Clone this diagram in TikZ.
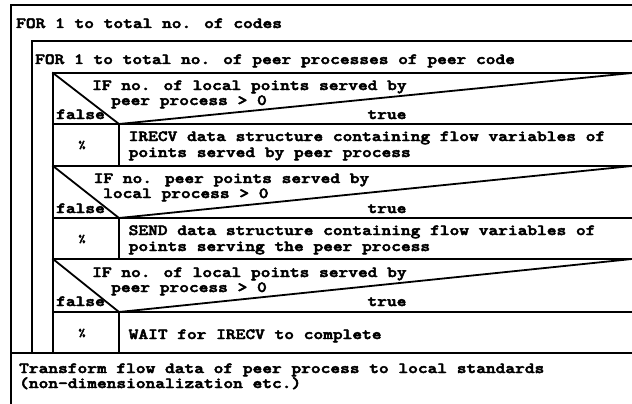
\documentclass[tikz,border=0pt]{standalone}
\usepackage{fontspec}
\usepackage{graphicx}
\newfontfamily\lmdark{lmmonolt10-bold.otf}[FakeBold=3]
\newcommand{\cw}[1]{\scalebox{1.195}[1]{#1}}
\tikzset{
  frame/.style={line width=1.8pt, line cap=rect},
  txt/.style={anchor=base west, inner sep=0pt, font=\lmdark\fontsize{15.5}{15.5}\selectfont},
  ctxt/.style={anchor=base, inner sep=0pt, font=\lmdark\fontsize{15.5}{15.5}\selectfont},
  pct/.style={anchor=center, inner sep=0pt, font=\lmdark\fontsize{11}{11}\selectfont},
}
\begin{document}
\begin{tikzpicture}[x=1pt,y=-1pt]
\useasboundingbox (0,0) rectangle (632,404);
\clip (0,0) rectangle (632,404);
% outer boxes
\draw[frame] (11,410) -- (11,5) -- (645,5);
\draw[frame] (32,353) -- (32,41) -- (645,41);
\draw[frame] (53,353) -- (53,73) -- (645,73);
% horizontal separators
\foreach \yy in {124,166,218,259,312} \draw[frame] (53,\yy) -- (645,\yy);
\draw[frame] (11,353) -- (645,353);
% vertical separators of the false column
\draw[frame] (119,124) -- (119,166);
\draw[frame] (119,218) -- (119,259);
\draw[frame] (119,312) -- (119,353);
% IF diagonals
\draw[frame] (53,73) -- (119,124) -- (632,73);
\draw[frame] (53,166) -- (119,218) -- (632,166);
\draw[frame] (53,259) -- (119,312) -- (632,259);
% texts
\node[txt] (for1) at (16,28) {\cw{FOR 1 to total no. of codes}};
\node[txt] (for2) at (35,64) {\cw{FOR 1 to total no. of peer processes of peer code}};
\node[txt] (if1a) at (92,90) {\cw{IF no. of local points served by}};
\node[txt] (if1b) at (111,105) {\cw{peer process > 0}};
\node[txt] (f1) at (56,119) {\cw{false}};
\node[ctxt] (t1) at (387,119) {\cw{true}};
\node[pct] (p1) at (82,145) {\cw{\%}};
\node[txt] (r1a) at (128.5,141) {\cw{IRECV data structure containing flow variables of}};
\node[txt] (r1b) at (128.5,157) {\cw{points served by peer process}};
\node[txt] (if2a) at (93.5,183) {\cw{IF no. peer points served by}};
\node[txt] (if2b) at (103,198) {\cw{local process > 0}};
\node[txt] (f2) at (56,213) {\cw{false}};
\node[ctxt] (t2) at (387,213) {\cw{true}};
\node[pct] (p2) at (82,239) {\cw{\%}};
\node[txt] (s2a) at (128.5,235) {\cw{SEND data structure containing flow variables of}};
\node[txt] (s2b) at (128.5,251) {\cw{points serving the peer process}};
\node[txt] (if3a) at (92,277) {\cw{IF no. of local points served by}};
\node[txt] (if3b) at (111,292) {\cw{peer process > 0}};
\node[txt] (f3) at (56,306) {\cw{false}};
\node[ctxt] (t3) at (387,306) {\cw{true}};
\node[pct] (p3) at (82,333) {\cw{\%}};
\node[txt] (w3) at (128.5,339) {\cw{WAIT for IRECV to complete}};
\node[txt] (tra) at (19,373) {\cw{Transform flow data of peer process to local standards}};
\node[txt] (trb) at (19,388) {\cw{(non-dimensionalization etc.)}};
\end{tikzpicture}
\end{document}
